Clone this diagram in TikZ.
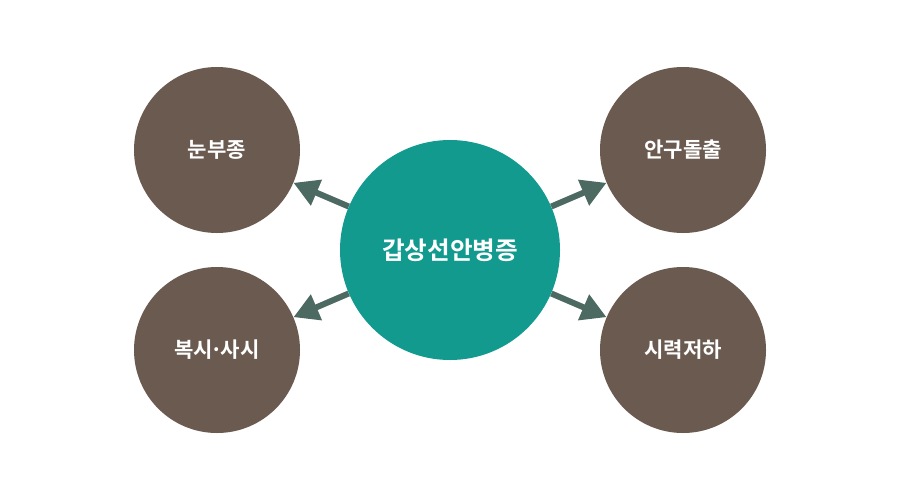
\documentclass[tikz,border=0pt]{standalone}
\usepackage{fontspec}
\newfontfamily\kofont{Noto Sans CJK KR}[BoldFont={* Bold}]
\usetikzlibrary{arrows.meta}
\definecolor{tealc}{HTML}{139A8F}
\definecolor{brownc}{HTML}{6B5A50}
\definecolor{arrowc}{HTML}{4C6A62}
\newcommand{\middot}{\kern-0.12em·\kern-0.12em}
\tikzset{
  main/.style={
    shape = circle,
    fill = tealc,
    minimum size = 6.6cm,
    inner sep = 0,
    text = white,
    font = \kofont\bfseries\fontsize{21}{24}\selectfont
  },
  symptom/.style={
    shape = circle,
    fill = brownc,
    minimum size = 4.98cm,
    inner sep = 0,
    text = white,
    font = \kofont\bfseries\fontsize{18}{21}\selectfont
  },
  link/.style={
    draw = arrowc,
    line width = 0.18cm,
    -{Triangle[length=0.75cm,width=0.8cm]}
  }
}
\begin{document}
\begin{tikzpicture}[x=0.03cm,y=-0.03cm]
            \useasboundingbox (0,0) rectangle (900,500);
            \node[main] (c) at (450,250) {갑상선안병증};
            \node[symptom] (lt) at (217,150) {눈부종};
            \node[symptom] (lb) at (217,350) {복시\middot 사시};
            \node[symptom] (rt) at (683,150) {안구돌출};
            \node[symptom] (rb) at (683,350) {시력저하};
            \foreach \s in {lt,lb,rt,rb}{
                    \draw[link] (c) -- (\s);
                }
        \end{tikzpicture}
\end{document}
